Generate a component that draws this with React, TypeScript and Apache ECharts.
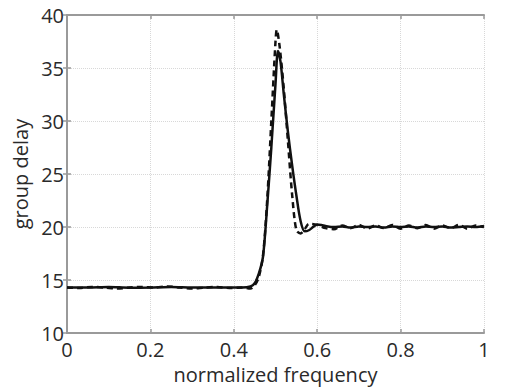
import React, { useEffect, useRef } from "react";
import * as echarts from "echarts";

// normalized frequency sample points (solid curve)
const freqSolid = [
  0, 0.05, 0.1, 0.15, 0.2, 0.25, 0.3, 0.35, 0.4, 0.42, 0.44, 0.45, 0.46, 0.47,
  0.48, 0.49, 0.5, 0.506, 0.512, 0.52, 0.53, 0.54, 0.55, 0.56, 0.57, 0.58,
  0.59, 0.6, 0.61, 0.62, 0.64, 0.66, 0.68, 0.7, 0.72, 0.74, 0.76, 0.78, 0.8,
  0.82, 0.84, 0.86, 0.88, 0.9, 0.92, 0.94, 0.96, 0.98, 1.0,
];
const delaySolid = [
  14.3, 14.3, 14.35, 14.28, 14.3, 14.35, 14.3, 14.3, 14.3, 14.3, 14.4, 14.7,
  15.6, 17.2, 22.0, 27.5, 33.5, 36.6, 35.6, 32.5, 28.9, 25.8, 23.0, 20.6,
  19.6, 19.7, 20.0, 20.25, 20.2, 20.1, 20.0, 20.05, 19.95, 20.05, 20.0,
  20.05, 19.95, 20.05, 20.0, 20.05, 19.95, 20.05, 20.0, 20.05, 19.95, 20.0,
  20.05, 20.0, 20.1,
];

// normalized frequency sample points (dashed curve)
const freqDashed = [
  0, 0.03, 0.06, 0.09, 0.12, 0.15, 0.18, 0.21, 0.24, 0.27, 0.3, 0.33, 0.36,
  0.39, 0.42, 0.44, 0.45, 0.46, 0.47, 0.48, 0.49, 0.5, 0.503, 0.51, 0.52,
  0.53, 0.54, 0.55, 0.56, 0.57, 0.58, 0.6, 0.62, 0.64, 0.66, 0.68, 0.7, 0.72,
  0.74, 0.76, 0.78, 0.8, 0.82, 0.84, 0.86, 0.88, 0.9, 0.92, 0.94, 0.96, 0.98,
  1.0,
];
const delayDashed = [
  14.3, 14.25, 14.35, 14.3, 14.2, 14.3, 14.35, 14.3, 14.4, 14.3, 14.2, 14.3,
  14.35, 14.25, 14.3, 14.2, 14.5, 15.3, 17.3, 22.5, 30.0, 37.5, 38.6, 37.0,
  33.0, 28.0, 23.0, 19.7, 19.4, 19.8, 20.3, 20.2, 19.9, 19.8, 20.15, 19.9,
  20.2, 19.85, 20.15, 19.9, 20.2, 19.85, 20.15, 19.9, 20.2, 19.85, 20.15,
  19.9, 20.2, 19.85, 20.15, 20.0,
];

const xTicks = [0, 0.2, 0.4, 0.6, 0.8, 1];
const yTicks = [10, 15, 20, 25, 30, 35, 40];

const FONT = "Open Sans";
const TEXT = "#2a2a2a";
const AXIS_GRAY = "#9a9a9a";

export default function App() {
  const ref = useRef<HTMLDivElement>(null);
  useEffect(() => {
    if (!ref.current) return;
    const chart = echarts.init(ref.current, undefined, { renderer: "svg" });
    const solid = freqSolid.map((f, i) => [f, delaySolid[i]]);
    const dashed = freqDashed.map((f, i) => [f, delayDashed[i]]);
    const axisCommon = {
      axisLine: { show: true, lineStyle: { color: AXIS_GRAY, width: 2 } },
      axisTick: { show: true, inside: true, length: 4, lineStyle: { color: AXIS_GRAY, width: 1.5 } },
    };
    chart.setOption({
      animation: false,
      backgroundColor: "#ffffff",
      grid: { left: 67, right: 44, top: 15, bottom: 50, containLabel: false },
      xAxis: [
        {
          type: "value",
          min: 0,
          max: 1,
          interval: 0.2,
          name: "normalized frequency",
          nameLocation: "middle",
          nameGap: 29,
          nameTextStyle: { fontFamily: FONT, fontSize: 20, color: TEXT },
          ...axisCommon,
          axisLabel: {
            fontFamily: FONT,
            fontSize: 20,
            lineHeight: 16,
            color: TEXT,
            margin: 8,
            formatter: (v: number) => (xTicks.includes(Number(v.toFixed(1))) ? String(Number(v.toFixed(1))) : ""),
          },
          splitLine: { show: true, lineStyle: { color: "#d8d8d8", type: "dotted", width: 1 } },
        },
        {
          type: "value",
          position: "top",
          min: 0,
          max: 1,
          interval: 0.2,
          ...axisCommon,
          axisLabel: { show: false },
          splitLine: { show: false },
        },
      ],
      yAxis: [
        {
          type: "value",
          min: 10,
          max: 40,
          interval: 5,
          name: "group delay",
          nameLocation: "middle",
          nameGap: 36,
          nameTextStyle: { fontFamily: FONT, fontSize: 20, color: TEXT },
          ...axisCommon,
          axisLabel: {
            fontFamily: FONT,
            fontSize: 20,
            lineHeight: 16,
            color: TEXT,
            margin: 3,
            formatter: (v: number) => (yTicks.includes(v) ? String(v) : ""),
          },
          splitLine: { show: true, lineStyle: { color: "#d8d8d8", type: "dotted", width: 1 } },
        },
        {
          type: "value",
          position: "right",
          min: 10,
          max: 40,
          interval: 5,
          ...axisCommon,
          axisLabel: { show: false },
          splitLine: { show: false },
        },
      ],
      series: [
        {
          type: "line",
          data: dashed,
          showSymbol: false,
          smooth: 0.3,
          lineStyle: { color: "#111", width: 2.5, type: [6, 4] },
          z: 3,
        },
        {
          type: "line",
          data: solid,
          showSymbol: false,
          smooth: 0.3,
          lineStyle: { color: "#111", width: 2.5, type: "solid" },
          z: 4,
        },
      ],
    });
    return () => chart.dispose();
  }, []);
  return (
    <div
      ref={ref}
      style={{ position: "fixed", left: 0, top: 0, width: 528, height: 389, background: "#fff" }}
    />
  );
}
